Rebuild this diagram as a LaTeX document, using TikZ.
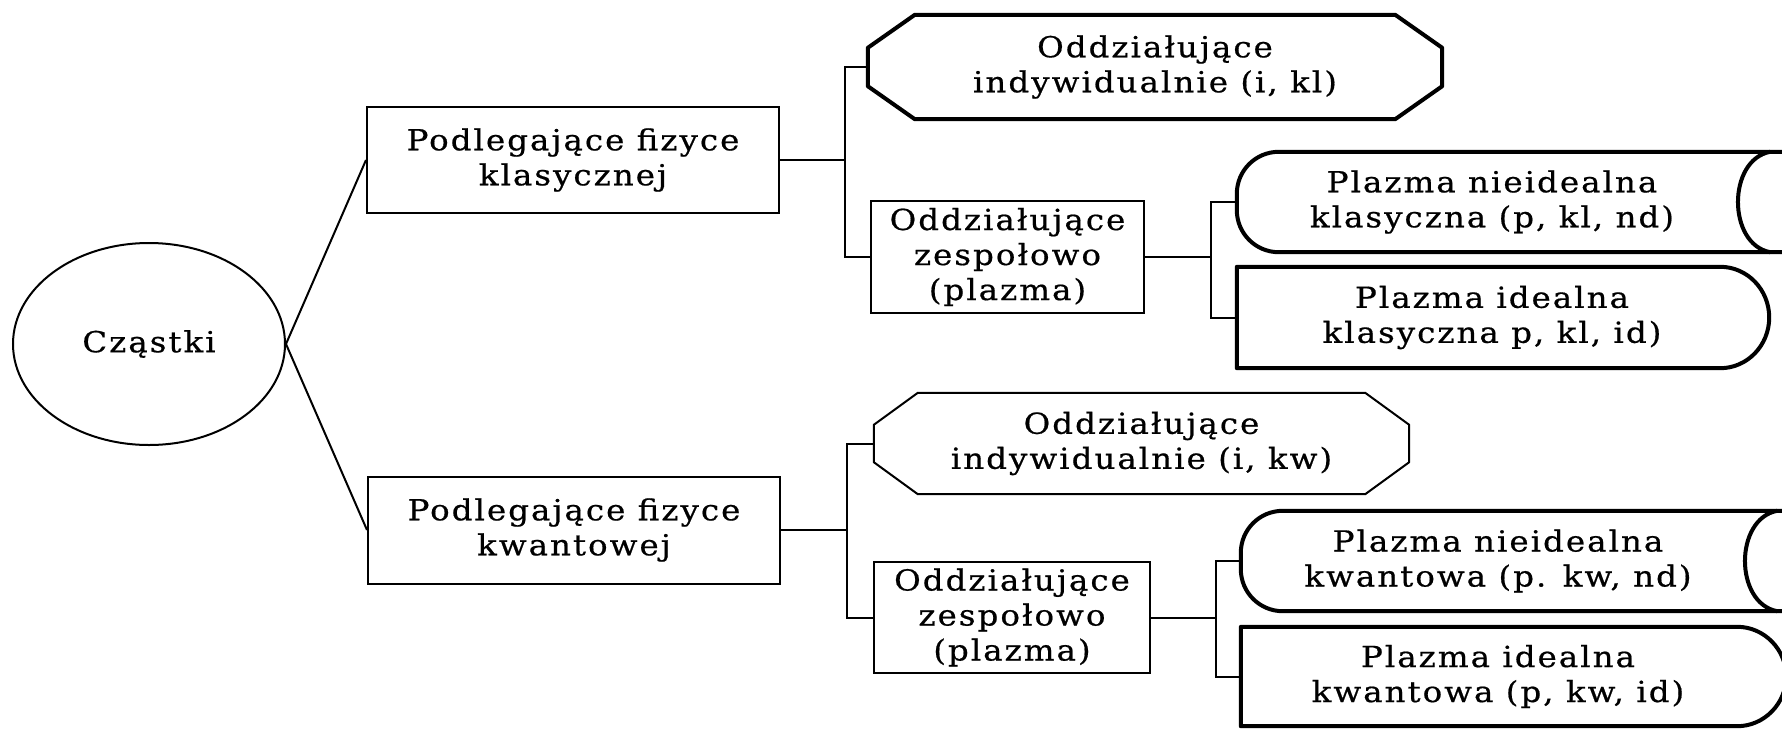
\documentclass[tikz,border=0pt]{standalone}
\usepackage{fontspec}
\setmainfont{DejaVu Serif}[LetterSpace=7, FakeStretch=1.12, FakeBold=0.6]
\usetikzlibrary{shapes.geometric,calc}
\begin{document}
\begin{tikzpicture}[x=1pt,y=-1pt,
  every node/.style={font=\fontsize{29}{35}\selectfont, align=center, inner sep=0pt},
  thinbox/.style={draw, line width=2pt, rectangle},
  conn/.style={line width=2pt},
  thickline/.style={line width=4pt, line join=round},
  thinline/.style={line width=2pt, line join=round}]
\useasboundingbox[fill=white] (0,0) rectangle (1782,728);

% root
\node[ellipse, draw, line width=2pt, minimum width=272pt, minimum height=202pt] (cz) at (149,344) {Cząstki};

% level 1
\node[thinbox, minimum width=412pt, minimum height=106pt] (kl) at (573,160) {Podlegające fizyce\\klasycznej};
\node[thinbox, minimum width=412pt, minimum height=107pt] (kw) at (574,530) {Podlegające fizyce\\kwantowej};

% octagons
\node[minimum width=574pt, minimum height=104pt] (ikl) at (1155,67) {Oddziałujące\\indywidualnie (i, kl)};
\draw[thickline] ($(ikl.north west)+(47,0)$) -- ($(ikl.north east)+(-47,0)$) -- ($(ikl.north east)+(0,33)$) -- ($(ikl.south east)+(0,-33)$) -- ($(ikl.south east)+(-47,0)$) -- ($(ikl.south west)+(47,0)$) -- ($(ikl.south west)+(0,-33)$) -- ($(ikl.north west)+(0,33)$) -- cycle;

\node[minimum width=535pt, minimum height=101pt] (ikw) at (1141.5,443.5) {Oddziałujące\\indywidualnie (i, kw)};
\draw[thinline] ($(ikw.north west)+(44,0)$) -- ($(ikw.north east)+(-44,0)$) -- ($(ikw.north east)+(0,32)$) -- ($(ikw.south east)+(0,-32)$) -- ($(ikw.south east)+(-44,0)$) -- ($(ikw.south west)+(44,0)$) -- ($(ikw.south west)+(0,-32)$) -- ($(ikw.north west)+(0,32)$) -- cycle;

% collective boxes
\node[thinbox, minimum width=273pt, minimum height=112pt] (zkl) at (1007.5,257) {Oddziałujące\\zespołowo\\(plazma)};
\node[thinbox, minimum width=276pt, minimum height=111pt] (zkw) at (1012,617.5) {Oddziałujące\\zespołowo\\(plazma)};

% plasma shapes
\node[minimum width=510pt, minimum height=100pt] (p1) at (1492,202) {Plazma nieidealna\\klasyczna (p, kl, nd)};
\draw[thickline, rounded corners=42pt] ($(p1.north east)+(35,0)$) -- (p1.north west) -- (p1.south west) -- ($(p1.south east)+(35,0)$);
\draw[thickline] ($(p1.north east)+(23,0)$) .. controls ($(p1.north east)+(-20,8)$) and ($(p1.south east)+(-20,-8)$) .. ($(p1.south east)+(23,0)$);

\node[minimum width=510pt, minimum height=101pt] (p2) at (1492,317.5) {Plazma idealna\\klasyczna p, kl, id)};
\draw[thickline] ($(p2.north east)+(-27,0)$) -- (p2.north west) -- (p2.south west) -- ($(p2.south east)+(-27,0)$) .. controls (p2.south east) and ($(p2.east)+(22,28)$) .. ($(p2.east)+(22,0)$) .. controls ($(p2.east)+(22,-28)$) and (p2.north east) .. ($(p2.north east)+(-27,0)$) -- cycle;

\node[minimum width=514pt, minimum height=100pt] (p3) at (1498,561) {Plazma nieidealna\\kwantowa (p. kw, nd)};
\draw[thickline, rounded corners=42pt] ($(p3.north east)+(27,0)$) -- (p3.north west) -- (p3.south west) -- ($(p3.south east)+(27,0)$);
\draw[thickline] ($(p3.north east)+(22,0)$) .. controls ($(p3.north east)+(-21,8)$) and ($(p3.south east)+(-21,-8)$) .. ($(p3.south east)+(22,0)$);

\node[minimum width=514pt, minimum height=99pt] (p4) at (1498,676.5) {Plazma idealna\\kwantowa (p, kw, id)};
\draw[thickline] ($(p4.north east)+(-18,0)$) -- (p4.north west) -- (p4.south west) -- ($(p4.south east)+(-18,0)$) .. controls ($(p4.south east)+(9,0)$) and ($(p4.east)+(31,27)$) .. ($(p4.east)+(31,0)$) .. controls ($(p4.east)+(31,-27)$) and ($(p4.north east)+(9,0)$) .. ($(p4.north east)+(-18,0)$) -- cycle;

% connectors
\draw[conn] (cz.east) -- (kl.west);
\draw[conn] (cz.east) -- (kw.west);

\draw[conn] (kl.east) -- ++(65,0) coordinate (b1);
\draw[conn] (ikl.west) -| (b1) |- (zkl.west);

\draw[conn] (kw.east) -- ++(66,0) coordinate (b2);
\draw[conn] (ikw.west) -| (b2) |- (zkw.west);

\draw[conn] (zkl.east) -- ++(66,0) coordinate (b3);
\draw[conn] (p1.west) -| (b3) |- (p2.west);

\draw[conn] (zkw.east) -- ++(65,0) coordinate (b4);
\draw[conn] (p3.west) -| (b4) |- (p4.west);
\end{tikzpicture}
\end{document}
